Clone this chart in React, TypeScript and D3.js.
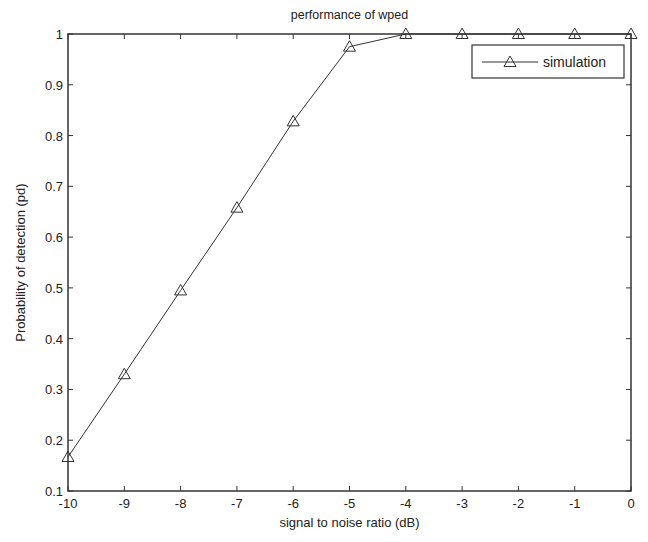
import React from "react";
import * as d3 from "d3";

const snr = [-10, -9, -8, -7, -6, -5, -4, -3, -2, -1, 0];
const pd = [0.167, 0.33, 0.495, 0.658, 0.828, 0.975, 1, 1, 1, 1, 1];
const xTicks = [-10, -9, -8, -7, -6, -5, -4, -3, -2, -1, 0];
const yTicks = [0.1, 0.2, 0.3, 0.4, 0.5, 0.6, 0.7, 0.8, 0.9, 1];

const W = 648, H = 542;
const L = 68, R = 631, T = 34, B = 491;
const C = "#333";
const FONT = "'Liberation Sans', Arial, sans-serif";

function tri(cx: number, cy: number, s = 6) {
  return `M${cx},${cy - s} L${cx + s},${cy + s * 0.75} L${cx - s},${cy + s * 0.75} Z`;
}

export default function App() {
  const x = d3.scaleLinear().domain([-10, 0]).range([L, R]);
  const y = d3.scaleLinear().domain([0.1, 1]).range([B, T]);
  const line = d3.line<number>().x((_, i) => x(snr[i])).y((d) => y(d));
  const tk = 5;
  return (
    <svg width={W} height={H} style={{ position: "absolute", left: 0, top: 0, background: "#fff" }}
      fontFamily={FONT}>
      <rect x={0} y={0} width={W} height={H} fill="#fff" />
      <text x={(L + R) / 2} y={19} textAnchor="middle" fontSize={12.5} fill="#222">performance of wped</text>
      {xTicks.map((t) => (
        <g key={"x" + t}>
          <line x1={x(t)} x2={x(t)} y1={B} y2={B - tk} stroke={C} />
          <line x1={x(t)} x2={x(t)} y1={T} y2={T + tk} stroke={C} />
          <text x={x(t)} y={B + 17} textAnchor="middle" fontSize={13} fill="#222">{t}</text>
        </g>
      ))}
      {yTicks.map((t) => (
        <g key={"y" + t}>
          <line x1={L} x2={L + tk} y1={y(t)} y2={y(t)} stroke={C} />
          <line x1={R} x2={R - tk} y1={y(t)} y2={y(t)} stroke={C} />
          <text x={L - 5} y={y(t) + 5} textAnchor="end" fontSize={13} fill="#222">{d3.format("")(+t.toFixed(1))}</text>
        </g>
      ))}
      <rect x={L} y={T} width={R - L} height={B - T} fill="none" stroke={C} strokeWidth={1.5} />
      <path d={line(pd) || ""} fill="none" stroke={C} strokeWidth={1} />
      {pd.map((v, i) => (
        <path key={i} d={tri(x(snr[i]), y(v))} fill="none" stroke={C} strokeWidth={1} />
      ))}
      <text x={(L + R) / 2} y={527} textAnchor="middle" fontSize={13} fill="#222">signal to noise ratio (dB)</text>
      <text transform={`translate(25,${(T + B) / 2}) rotate(-90)`} textAnchor="middle" fontSize={13} fill="#222">
        Probability of detection (pd)
      </text>
      <g>
        <rect x={472} y={45} width={152} height={33} fill="#fff" stroke={C} strokeWidth={1.2} />
        <line x1={482} x2={538} y1={62} y2={62} stroke={C} />
        <path d={tri(510, 62)} fill="none" stroke={C} />
        <text x={543} y={67} fontSize={14} fill="#222">simulation</text>
      </g>
    </svg>
  );
}
